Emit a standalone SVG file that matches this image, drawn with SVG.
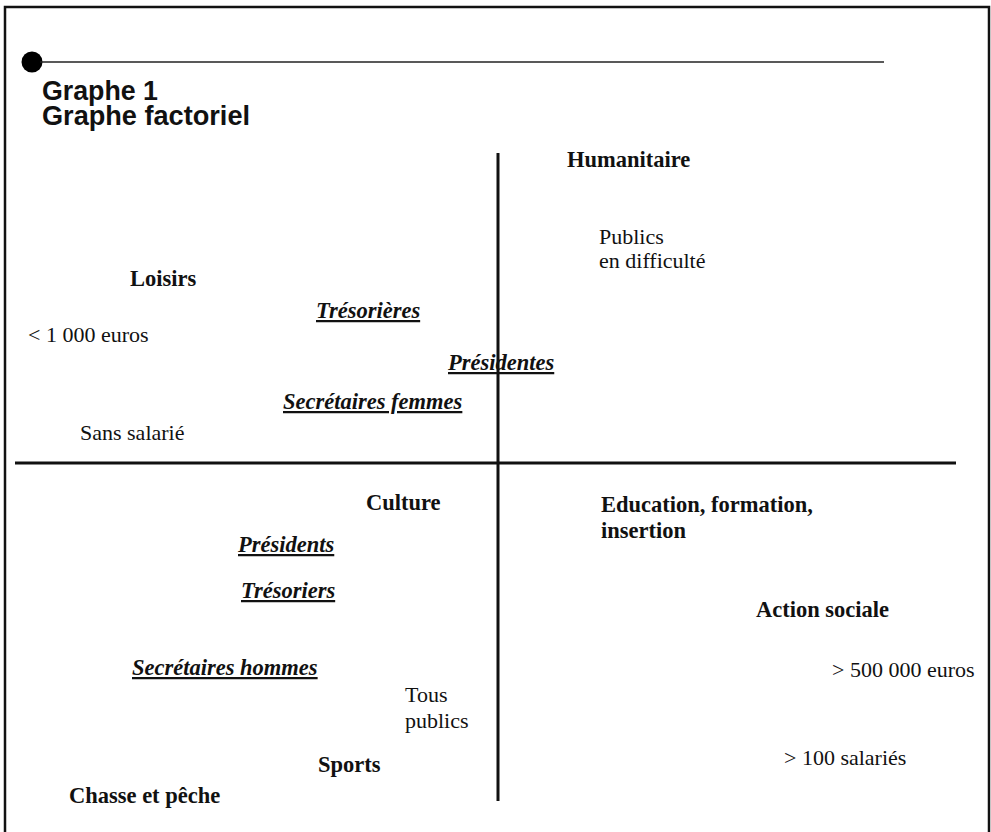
<svg xmlns="http://www.w3.org/2000/svg" width="991" height="832" viewBox="0 0 991 832">
<style>
.t{font-family:"Liberation Serif","Times New Roman",serif;font-size:22px;fill:#111}
.b{font-weight:bold;font-size:22.5px}
.u{font-weight:bold;font-style:italic;font-size:22.5px;text-decoration:underline}
.h{font-family:"Liberation Sans",Arial,sans-serif;font-weight:bold;font-size:28px;fill:#111}
</style>
<rect x="0" y="0" width="991" height="832" fill="#fff"/>
<g id="frame">
<path d="M5,845 V7 H989 V845" fill="none" stroke="#111" stroke-width="2.5"/>
<circle cx="32" cy="62" r="10.5" fill="#000"/>
<line x1="40" y1="62" x2="884" y2="62" stroke="#222" stroke-width="1.3"/>
<text class="h" x="42" y="100" textLength="116" lengthAdjust="spacingAndGlyphs">Graphe 1</text>
<text class="h" x="42" y="125" textLength="208" lengthAdjust="spacingAndGlyphs">Graphe factoriel</text>
</g>
<g id="axes">
<line x1="15" y1="463" x2="956" y2="463" stroke="#111" stroke-width="3"/>
<line x1="498" y1="153" x2="498" y2="801" stroke="#111" stroke-width="3"/>
</g>
<g id="n-humanitaire"><text class="t b" x="567" y="167">Humanitaire</text></g>
<g id="n-publics-difficulte"><text class="t" x="599" y="244">Publics</text><text class="t" x="599" y="268">en difficulté</text></g>
<g id="n-loisirs"><text class="t b" x="130" y="286">Loisirs</text></g>
<g id="n-tresorieres"><text class="t u" x="316" y="318">Trésorières</text></g>
<g id="n-moins-1000"><text class="t" x="28" y="342">&lt; 1 000 euros</text></g>
<g id="n-presidentes"><text class="t u" x="448" y="370">Présidentes</text></g>
<g id="n-secretaires-femmes"><text class="t u" x="283" y="409">Secrétaires femmes</text></g>
<g id="n-sans-salarie"><text class="t" x="80" y="440">Sans salarié</text></g>
<g id="n-culture"><text class="t b" x="366" y="510">Culture</text></g>
<g id="n-education"><text class="t b" x="601" y="512">Education, formation,</text><text class="t b" x="601" y="538">insertion</text></g>
<g id="n-presidents"><text class="t u" x="238" y="552">Présidents</text></g>
<g id="n-tresoriers"><text class="t u" x="241" y="598">Trésoriers</text></g>
<g id="n-action-sociale"><text class="t b" x="756" y="617">Action sociale</text></g>
<g id="n-secretaires-hommes"><text class="t u" x="132" y="675">Secrétaires hommes</text></g>
<g id="n-plus-500000"><text class="t" x="832" y="677">&gt; 500 000 euros</text></g>
<g id="n-tous-publics"><text class="t" x="405" y="702">Tous</text><text class="t" x="405" y="728">publics</text></g>
<g id="n-plus-100"><text class="t" x="784" y="765">&gt; 100 salariés</text></g>
<g id="n-sports"><text class="t b" x="318" y="772">Sports</text></g>
<g id="n-chasse"><text class="t b" x="69" y="803">Chasse et pêche</text></g>
<g id="connectors"></g>
</svg>
